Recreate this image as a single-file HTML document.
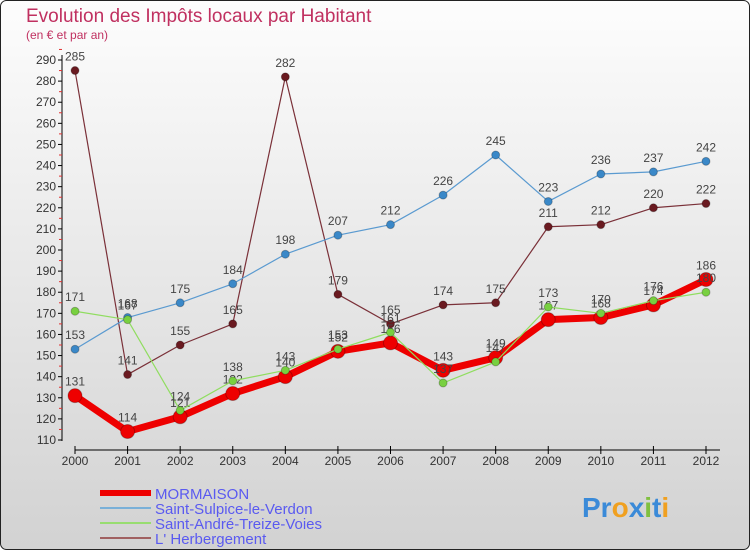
<!DOCTYPE html>
<html><head><meta charset="utf-8"><style>
body{margin:0;width:750px;height:550px;overflow:hidden;font-family:"Liberation Sans",sans-serif}
</style></head><body>
<svg width="750" height="550" xmlns="http://www.w3.org/2000/svg">
<defs><linearGradient id="bg" x1="0" y1="0" x2="0" y2="1"><stop offset="0" stop-color="#fdfdfd"/><stop offset="1" stop-color="#d2d2d2"/></linearGradient></defs>
<rect x="0.5" y="0.5" width="749" height="549" rx="6" fill="url(#bg)" stroke="#222"/>
<text x="26" y="22" font-size="19" fill="#c03060">Evolution des Impôts locaux par Habitant</text>
<text x="26" y="39" font-size="12" fill="#c03060">(en € et par an)</text>
<g id="axes"></g><g id="series"></g><g id="legend"></g>
<text x="582" y="517" font-size="28" font-weight="bold"><tspan fill="#3a8ad8">Pr</tspan><tspan fill="#f0a020">o</tspan><tspan fill="#3a8ad8">x</tspan><tspan fill="#80c040">i</tspan><tspan fill="#3a8ad8">t</tspan><tspan fill="#f0a020">i</tspan></text>
</svg>
<script>
const years=[2000,2001,2002,2003,2004,2005,2006,2007,2008,2009,2010,2011,2012];
const yTicks=[110,120,130,140,150,160,170,180,190,200,210,220,230,240,250,260,270,280,290];
const mormaison=[131,114,121,132,140,152,156,143,149,167,168,174,186];
const sulpice=[153,168,175,184,198,207,212,226,245,223,236,237,242];
const andre=[171,167,124,138,143,153,161,137,147,173,170,176,180];
const herb=[285,141,155,165,282,179,165,174,175,211,212,220,222];
const NS="http://www.w3.org/2000/svg";
const X=i=>75+i*(706-75)/12;
const Y=v=>440-(v-110)*(380/180);
function mk(t,a,p){const e=document.createElementNS(NS,t);for(const k in a)e.setAttribute(k,a[k]);p.appendChild(e);return e;}
const ax=document.getElementById('axes');
let l=mk('line',{x1:62,y1:55,x2:62,y2:441,stroke:'#000'},ax);


yTicks.forEach(v=>{
 mk('line',{x1:58,x2:62,y1:Y(v),y2:Y(v),stroke:'#000'},ax);
 mk('line',{x1:59,x2:62,y1:Y(v+5),y2:Y(v+5),stroke:'#e03030'},ax);
 const t=mk('text',{x:56,y:Y(v)+4,'font-size':12,'text-anchor':'end',fill:'#333'},ax);t.textContent=v;
 
 
});
l=mk('line',{x1:75,y1:450,x2:720,y2:450,stroke:'#000'},ax);


years.forEach((y,i)=>{
 mk('line',{x1:X(i),x2:X(i),y1:446,y2:454,stroke:'#000'},ax);
 const t=mk('text',{x:X(i),y:465,'font-size':12,'text-anchor':'middle',fill:'#333'},ax);t.textContent=y;
 
 
});
const sg=document.getElementById('series');
function draw(data,color,w,r,name,dot){
 const g=mk('g',{},sg);
 
 
 const pl=mk('polyline',{points:data.map((v,i)=>X(i)+','+Y(v)).join(' '),fill:'none',stroke:color,'stroke-width':w,'stroke-linejoin':'round'},g);
 
 
 data.forEach((v,i)=>{
  const c=mk('circle',{cx:X(i),cy:Y(v),r:r,fill:dot,stroke:'rgba(0,0,0,0.25)'},g);
  
  
  const t=mk('text',{x:X(i),y:Y(v)-10,'font-size':12,'text-anchor':'middle',fill:'#444'},g);t.textContent=v;
  
  
 });
}
draw(herb,'#7a3038',1.2,4,'herbergement','#6a1a20');
draw(sulpice,'#5a9ad0',1.2,4,'sulpice','#3a88c8');
draw(mormaison,'#ee0000',7,7,'mormaison','#ee0000');
draw(andre,'#90dd60',1.2,4,'andre','#78d040');
const lg=document.getElementById('legend');
[['MORMAISON','#ee0000',6],['Saint-Sulpice-le-Verdon','#7ab0d8',2],['Saint-André-Treize-Voies','#98dd70',2],['L\' Herbergement','#a06060',2]].forEach((e,i)=>{
 const yy=493+i*15;
 const ln=mk('line',{x1:100,x2:151,y1:yy,y2:yy,stroke:e[1],'stroke-width':e[2]},lg);
 
 
 const t=mk('text',{x:155,y:yy+6,'font-size':15,fill:'#5a5af0'},lg);t.textContent=e[0];
 
 
});
</script>
</body></html>
